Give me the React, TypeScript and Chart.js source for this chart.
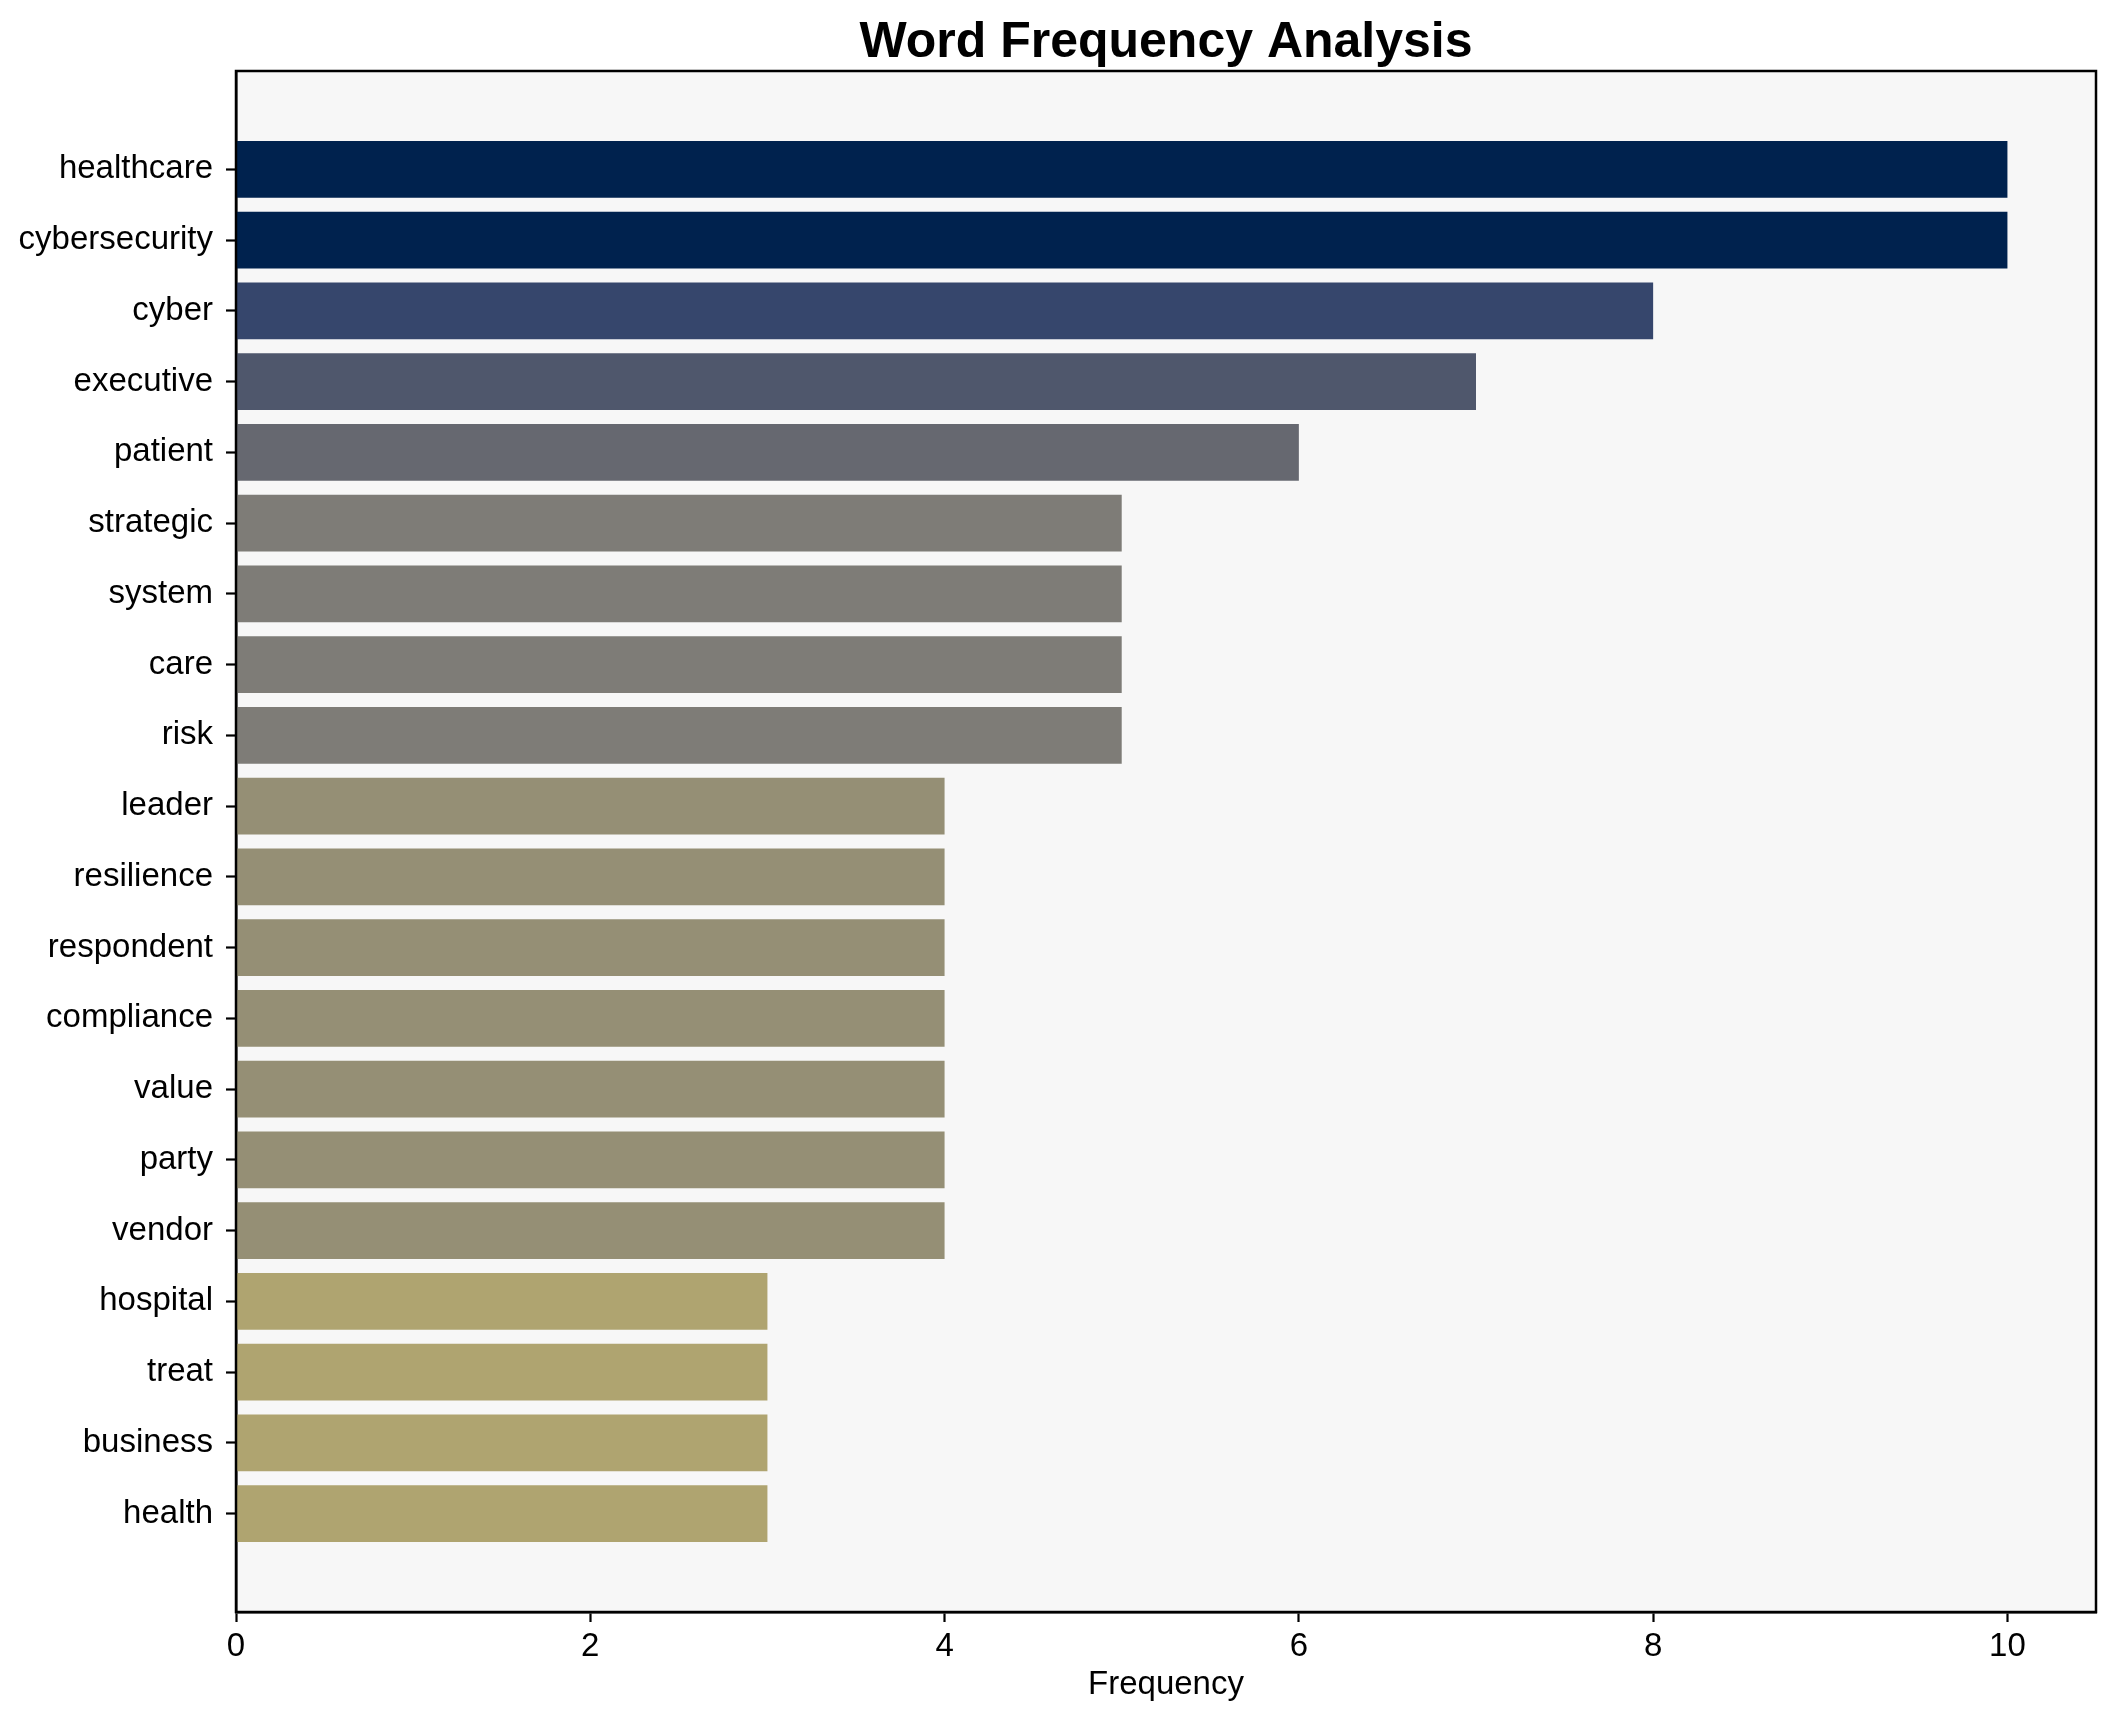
import React, { useEffect, useRef } from "react";
import { Chart, registerables } from "chart.js";

Chart.register(...registerables);

const words = [
  "healthcare", "cybersecurity", "cyber", "executive", "patient",
  "strategic", "system", "care", "risk", "leader",
  "resilience", "respondent", "compliance", "value", "party",
  "vendor", "hospital", "treat", "business", "health",
];
const frequencies = [10, 10, 8, 7, 6, 5, 5, 5, 5, 4, 4, 4, 4, 4, 4, 4, 3, 3, 3, 3];
const barColors = [
  "#00224e", "#00224e", "#36466c", "#4f576c", "#666870",
  "#7e7c77", "#7e7c77", "#7e7c77", "#7e7c77", "#958f75",
  "#958f75", "#958f75", "#958f75", "#958f75", "#958f75",
  "#958f75", "#afa470", "#afa470", "#afa470", "#afa470",
];
const xTicks = [0, 2, 4, 6, 8, 10];
const titleText = "Word Frequency Analysis";
const xLabel = "Frequency";

const W = 2115;
const H = 1722;
const FONT = "'Liberation Sans', Arial, sans-serif";

export default function App() {
  const ref = useRef<HTMLCanvasElement | null>(null);

  useEffect(() => {
    document.body.style.margin = "0";
    const canvas = ref.current;
    if (!canvas) return;

    const framePlugin = {
      id: "frame",
      beforeDraw(chart: any) {
        const { ctx, chartArea: a } = chart;
        ctx.save();
        ctx.fillStyle = "#ffffff";
        ctx.fillRect(0, 0, chart.width, chart.height);
        ctx.fillStyle = "#f7f7f7";
        ctx.fillRect(a.left, a.top, a.right - a.left, a.bottom - a.top);
        ctx.restore();
      },
      afterDraw(chart: any) {
        const { ctx, chartArea: a } = chart;
        ctx.save();
        ctx.strokeStyle = "#000";
        ctx.lineWidth = 2.5;
        ctx.strokeRect(a.left, a.top, a.right - a.left, a.bottom - a.top);
        const cx = (a.left + a.right) / 2;
        ctx.fillStyle = "#000";
        ctx.textAlign = "center";
        ctx.textBaseline = "alphabetic";
        ctx.font = `bold 50px ${FONT}`;
        ctx.fillText(titleText, cx, 57);
        ctx.font = `33px ${FONT}`;
        ctx.fillText(xLabel, cx, 1694);
        ctx.restore();
      },
    };

    const chart = new Chart(canvas, {
      type: "bar",
      data: {
        datasets: [
          {
            data: frequencies.map((v, i) => ({ x: v, y: i })),
            backgroundColor: barColors,
            borderWidth: 0,
            barPercentage: 0.8,
            categoryPercentage: 1.0,
          },
        ],
      },
      options: {
        indexAxis: "y",
        animation: false,
        responsive: false,
        devicePixelRatio: 1,
        layout: { padding: { top: 71, right: 19, left: 0, bottom: 0 } },
        plugins: { legend: { display: false }, tooltip: { enabled: false }, title: { display: false } },
        scales: {
          x: {
            type: "linear",
            min: 0,
            max: 10.5,
            offset: false,
            afterBuildTicks: (scale: any) => {
              scale.ticks = xTicks.map((v) => ({ value: v }));
            },
            afterFit: (scale: any) => {
              scale.height = 110;
            },
            grid: { offset: false, drawOnChartArea: false, drawTicks: true, tickLength: 10, tickColor: "#000", tickWidth: 2.2, color: "#000" },
            border: { display: true, color: "#000", width: 2.5 },
            ticks: { color: "#000", font: { family: FONT, size: 33 }, padding: 5, maxRotation: 0 },
          },
          y: {
            type: "linear",
            min: -1.39,
            max: 20.39,
            reverse: true,
            offset: false,
            afterBuildTicks: (scale: any) => {
              scale.ticks = words.map((_, i) => ({ value: i }));
            },
            afterFit: (scale: any) => {
              scale.width = 236;
            },
            grid: { offset: false, drawOnChartArea: false, drawTicks: true, tickLength: 10, tickColor: "#000", tickWidth: 2.2, color: "#000" },
            border: { display: true, color: "#000", width: 2.5 },
            ticks: {
              color: "#000",
              font: { family: FONT, size: 33 },
              padding: 13,
              autoSkip: false,
              callback: (value: any) => words[value as number] ?? "",
            },
          },
        },
      },
      plugins: [framePlugin],
    } as any);

    return () => chart.destroy();
  }, []);

  return (
    <div style={{ width: W, height: H }}>
      <canvas ref={ref} width={W} height={H} style={{ width: W, height: H, display: "block" }} />
    </div>
  );
}
